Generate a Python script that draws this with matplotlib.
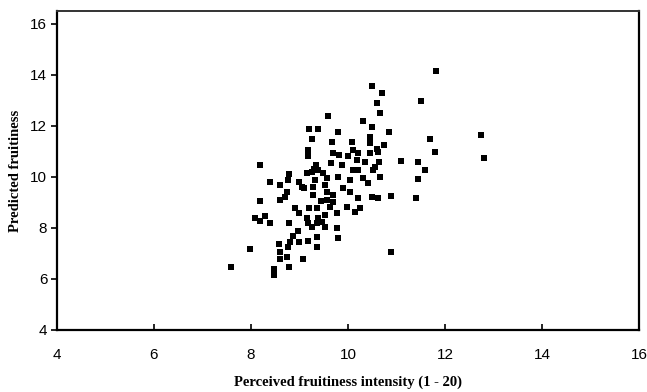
import matplotlib
matplotlib.use("Agg")

import numpy as np
import matplotlib.pyplot as plt

# perceived vs predicted fruitiness
perceived = [
    9.18, 9.18, 8.19, 9.30, 9.35, 9.25, 8.39, 8.60, 8.78, 8.76,
    9.00, 9.05, 9.28, 9.28, 8.19, 8.60, 8.74, 8.70, 8.90, 9.00,
    9.20, 9.36, 8.08, 8.19, 8.29, 8.39, 8.78, 9.15, 9.17, 9.25,
    9.36, 8.97, 8.87, 8.80, 8.99, 9.18, 9.36, 9.36, 8.58, 7.98,
    8.76, 8.60, 8.74, 8.60, 9.07, 8.78, 7.59, 8.47, 8.47,
    9.59, 10.31, 10.49, 9.20, 9.38, 9.80, 9.26, 9.67, 10.08, 10.45,
    10.45, 9.69, 9.81, 10.10, 10.20, 10.45, 10.60, 10.66, 10.60, 10.35,
    10.19, 9.88, 9.15, 9.38, 9.48, 9.57, 10.10, 10.20, 10.52, 10.66,
    9.80, 10.04, 10.41, 9.32, 9.53,
    9.57, 9.69, 9.69, 9.57, 10.04, 10.20, 10.49, 9.98, 10.14, 10.25,
    9.38, 9.53, 9.53, 9.46, 9.77, 9.77, 9.80,
    11.81, 10.70, 11.50, 10.85, 11.69, 10.74, 10.62, 11.79, 10.64, 11.09,
    11.44, 11.59, 11.44, 10.49, 10.55,
    10.62, 10.89, 11.40, 10.89, 12.74, 12.80,
    9.62, 9.45, 9.90, 10.30, 9.10, 9.65, 10.00,
]
predicted = [
    11.05, 10.80, 10.47, 10.30, 10.45, 10.20, 9.80, 9.70, 10.10, 9.88,
    9.80, 9.60, 9.60, 9.30, 9.06, 9.10, 9.40, 9.20, 8.78, 8.60,
    8.78, 8.78, 8.40, 8.27, 8.47, 8.20, 8.20, 8.40, 8.20, 8.04,
    8.20, 7.88, 7.70, 7.45, 7.45, 7.50, 7.65, 7.27, 7.37, 7.17,
    7.27, 7.06, 6.86, 6.78, 6.78, 6.47, 6.47, 6.40, 6.15,
    12.39, 12.20, 11.96, 11.88, 11.88, 11.76, 11.50, 11.37, 11.37, 11.57,
    11.33, 10.94, 10.86, 11.06, 10.94, 10.94, 11.10, 12.50, 12.90, 10.60,
    10.67, 10.47, 10.16, 10.27, 10.16, 9.96, 10.27, 10.27, 10.27, 10.00,
    10.00, 9.88, 9.76, 9.88, 9.69,
    9.40, 9.30, 9.02, 9.10, 9.40, 9.18, 9.20, 8.82, 8.63, 8.78,
    8.40, 8.51, 8.04, 8.24, 8.59, 8.00, 7.60,
    14.16, 13.30, 12.98, 11.76, 11.49, 11.25, 10.98, 10.98, 10.59, 10.63,
    10.59, 10.27, 9.92, 13.57, 10.40,
    9.18, 9.25, 9.18, 7.06, 11.65, 10.75,
    8.80, 9.05, 9.55, 9.95, 9.55, 10.55, 10.80,
]

x_ticks = [4, 6, 8, 10, 12, 14, 16]
y_ticks = [4, 6, 8, 10, 12, 14, 16]

fig = plt.figure(figsize=(6.47, 3.92), dpi=100)
ax = fig.add_axes([0.0881, 0.1582, 0.8995, 0.8138])

ax.scatter(perceived, predicted, marker='s', s=22, color='black', linewidths=0)

ax.set_xlim(4, 16)
ax.set_ylim(4, 16.5)
ax.set_xticks(x_ticks)
ax.set_yticks(y_ticks)

tick_font = {'family': 'Liberation Sans', 'size': 11}
ax.set_xticklabels([str(t) for t in x_ticks], fontdict=tick_font)
ax.set_yticklabels([str(t) for t in y_ticks], fontdict=tick_font)
ax.tick_params(axis='x', direction='in', length=4, width=1.2, pad=13)
ax.tick_params(axis='y', direction='out', length=4, width=1.2, pad=3)

for side in ['left', 'bottom', 'right']:
    ax.spines[side].set_linewidth(1.6)
    ax.spines[side].set_color('black')
ax.spines['top'].set_linewidth(1.4)
ax.spines['top'].set_color('#333333')

label_font = {'family': 'Liberation Serif', 'weight': 'bold', 'size': 10.5}
ax.set_xlabel('Perceived fruitiness intensity (1 - 20)', fontdict=label_font)
ax.set_ylabel('Predicted fruitiness', fontdict=label_font)
ax.xaxis.set_label_coords(0.5, -0.163)
ax.yaxis.set_label_coords(-0.072, 0.5)
ax.xaxis.label.set_va('center')
ax.yaxis.label.set_va('center')

fig.savefig('out.png', dpi=100)
